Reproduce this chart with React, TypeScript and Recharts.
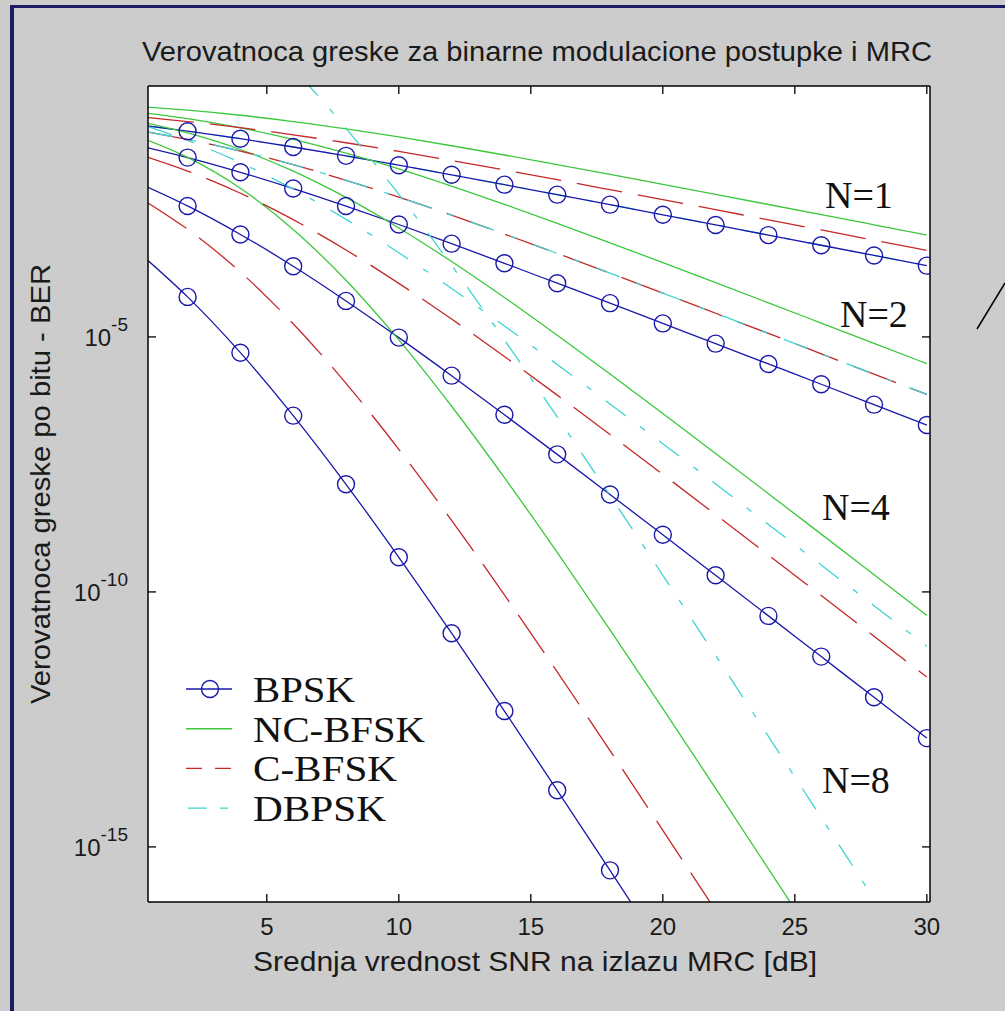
import React from "react";
import { CartesianGrid, Legend, Line, LineChart, XAxis, YAxis } from "recharts";

// SNR grid [dB] the curves were read at
const SNR = [0.5, 2, 4, 6, 8, 10, 12, 14, 16, 18, 20, 22, 24, 26, 28, 30];

// BPSK (blue, circles)
const bpskN1 = [0.136, 0.108, 0.0771, 0.053, 0.0355, 0.0233, 0.0151, 0.00967, 0.00616, 0.00392, 0.00248, 0.00157, 0.000992, 0.000627, 0.000396, 0.00025];
const bpskN2 = [0.0508, 0.0328, 0.0169, 0.00813, 0.00368, 0.0016, 0.000674, 0.000278, 0.000113, 4.59e-5, 1.84e-5, 7.39e-6, 2.95e-6, 1.18e-6, 4.7e-7, 1.87e-7];
const bpskN4 = [8.59e-3, 3.7e-3, 1.02e-3, 2.43e-4, 5.08e-5, 9.7e-6, 1.74e-6, 2.98e-7, 4.98e-8, 8.15e-9, 1.32e-9, 2.12e-10, 3.39e-11, 5.39e-12, 8.58e-13, 1.36e-13];
const bpskN8 = [3.14e-4, 6.09e-5, 4.91e-6, 2.86e-7, 1.29e-8, 4.78e-10, 1.55e-11, 4.61e-13, 1.29e-14, 3.47e-16, 9.11e-18];

// NC-BFSK (green, solid)
const ncN1 = [0.32, 0.279, 0.222, 0.167, 0.12, 0.0833, 0.056, 0.0369, 0.0239, 0.0154, 0.0098, 0.00623, 0.00395, 0.0025, 0.00158, 0.000998];
const ncN2 = [0.242, 0.19, 0.126, 0.0745, 0.04, 0.0197, 0.00906, 0.00398, 0.00169, 7.0e-4, 2.87e-4, 1.16e-4, 4.67e-5, 1.87e-5, 7.48e-6, 2.99e-6];
const ncN4 = [0.154, 0.1, 0.0473, 0.0178, 5.43e-3, 1.37e-3, 3.01e-4, 5.92e-5, 1.08e-5, 1.88e-6, 3.16e-7, 5.2e-8, 8.44e-9, 1.36e-9, 2.17e-10, 3.46e-11];
const ncN8 = [0.0715, 0.0331, 8.2e-3, 1.28e-3, 1.29e-4, 8.75e-6, 4.37e-7, 1.74e-8, 5.93e-10, 1.81e-11, 5.17e-13, 1.41e-14, 3.72e-16, 9.65e-18];

// C-BFSK (red, dashed)
const cN1 = [0.2, 0.167, 0.127, 0.0919, 0.0642, 0.0435, 0.0288, 0.0188, 0.0121, 0.00772, 0.00491, 0.00312, 0.00197, 0.00125, 0.000789, 0.000498];
const cN2 = [0.104, 0.0746, 0.0441, 0.0238, 0.0118, 0.00551, 0.00244, 0.00104, 4.34e-4, 1.78e-4, 7.22e-5, 2.91e-5, 1.17e-5, 4.67e-6, 1.86e-6, 7.44e-7];
const cN4 = [0.0333, 0.0179, 6.57e-3, 1.99e-3, 5.07e-4, 1.12e-4, 2.24e-5, 4.13e-6, 7.23e-7, 1.22e-7, 2.02e-8, 3.28e-9, 5.29e-10, 8.47e-11, 1.35e-11, 2.15e-12];
const cN8 = [4.24e-3, 1.29e-3, 1.87e-4, 1.81e-5, 1.23e-6, 6.24e-8, 2.53e-9, 8.74e-11, 2.7e-12, 7.76e-14, 2.12e-15, 5.64e-17, 1.47e-18];

// DBPSK (cyan, dash-dot)
const dbN1 = [0.136, 0.108, 0.0771, 0.053, 0.0355, 0.0233, 0.0151, 0.00967, 0.00616, 0.00392, 0.00248, 0.00157, 0.000992, 0.000627, 0.000396, 0.00025];
const dbN2 = [0.104, 0.0746, 0.0441, 0.0238, 0.0118, 0.00551, 0.00244, 0.00104, 4.34e-4, 1.78e-4, 7.22e-5, 2.91e-5, 1.17e-5, 4.67e-6, 1.86e-6, 7.44e-7];
const dbN4 = [0.133, 0.0711, 0.0261, 7.91e-3, 2.02e-3, 4.48e-4, 8.91e-5, 1.64e-5, 2.88e-6, 4.86e-7, 8.04e-8, 1.31e-8, 2.1e-9, 3.37e-10, 5.38e-11, 8.57e-12];
const dbN8 = [424, 129, 18.7, 1.81, 0.123, 6.24e-3, 2.53e-4, 8.73e-6, 2.7e-7, 7.76e-9, 2.12e-10, 5.64e-12, 1.47e-13, 3.76e-15, 9.57e-17];

const X_TICKS = [5, 10, 15, 20, 25, 30];
const Y_TICKS = [1e-5, 1e-10, 1e-15];
const LEGEND_NAMES = ["BPSK", "NC-BFSK", "C-BFSK", "DBPSK"];
const LEGEND_WIDTHS = [102, 172, 144, 133];
const N_LABELS = ["N=1", "N=2", "N=4", "N=8"];

const X_DOMAIN = [0.5, 30.12];
const Y_DOMAIN = [8.318e-17, 0.8318];

const BLUE = "#1818aa";
const GREEN = "#3cc83c";
const RED = "#c42828";
const CYAN = "#40d2d2";
const SANS = "'Liberation Sans', Arial, sans-serif";
const SERIF = "'Liberation Serif', 'Times New Roman', serif";
const RED_DASH = "46 16";
const CYAN_DASH = "25 18 6 18";

const toPoints = (vals: number[]) => vals.map((v, i) => ({ x: SNR[i], y: v }));

// circles only on the even-dB points, like the original plot
const Marker = (props: any) => {
  const { cx, cy, payload, index } = props;
  if (cx == null || cy == null || payload.x % 2 !== 0 || cy > 906) return <g key={`m-${index}`} />;
  return <circle key={`m-${index}`} cx={cx} cy={cy} r={8.5} fill="none" stroke={BLUE} strokeWidth={1.4} />;
};

const XTick = ({ x, y, payload }: any) => (
  <text x={x} y={y} textAnchor="middle" fontSize={24} fontFamily={SANS} fill="#1a1a1a">
    {payload.value}
  </text>
);

const YTick = ({ x, y, payload }: any) => {
  const exp = Math.round(Math.log10(payload.value));
  return (
    <text x={x} y={y + 9} textAnchor="end" fontSize={24} fontFamily={SANS} fill="#1a1a1a">
      <tspan>10</tspan>
      <tspan dy={-15} fontSize={19}>{String(exp)}</tspan>
    </text>
  );
};

const NoTick = () => <g />;

const LegendBox = () => (
  <svg width={300} height={175}>
    {LEGEND_NAMES.map((name, i) => {
      const cy = 29 + 39.7 * i;
      return (
        <g key={name}>
          {i === 0 && (
            <>
              <line x1={11} x2={57} y1={cy} y2={cy} stroke={BLUE} strokeWidth={1.4} />
              <circle cx={35} cy={cy} r={8.5} fill="none" stroke={BLUE} strokeWidth={1.4} />
            </>
          )}
          {i === 1 && <line x1={11} x2={57} y1={cy} y2={cy} stroke={GREEN} strokeWidth={1.4} />}
          {i === 2 && <line x1={11} x2={57} y1={cy} y2={cy} stroke={RED} strokeWidth={1.4} strokeDasharray="16 13" />}
          {i === 3 && <line x1={13} x2={55} y1={cy} y2={cy} stroke={CYAN} strokeWidth={1.4} strokeDasharray="19 13 8 20" />}
          <text
            x={78}
            y={cy + 13}
            fontSize={36}
            fontFamily={SERIF}
            fill="#111"
            textLength={LEGEND_WIDTHS[i]}
            lengthAdjust="spacingAndGlyphs"
          >
            {name}
          </text>
        </g>
      );
    })}
  </svg>
);

export default function App() {
  const lineBase = { type: "monotone" as const, dataKey: "y", isAnimationActive: false, activeDot: false, strokeWidth: 1.3 };

  return (
    <div style={{ position: "absolute", left: 0, top: 0, width: 1005, height: 1011, background: "#cccccc" }}>
      <LineChart width={1005} height={1011} margin={{ top: 85, right: 74, bottom: 49, left: 60 }}>
        <CartesianGrid horizontal={false} vertical={false} fill="#ffffff" />
        <XAxis
          dataKey="x"
          type="number"
          domain={X_DOMAIN}
          allowDataOverflow
          ticks={X_TICKS}
          height={60}
          tickSize={-8}
          tickMargin={41}
          tick={<XTick />}
          axisLine={{ stroke: "#000", strokeWidth: 1.5 }}
          tickLine={{ stroke: "#000", strokeWidth: 1.3 }}
        />
        <XAxis
          xAxisId="top"
          orientation="top"
          dataKey="x"
          type="number"
          domain={X_DOMAIN}
          allowDataOverflow
          ticks={X_TICKS}
          height={1}
          tickSize={-8}
          tick={NoTick}
          axisLine={{ stroke: "#000", strokeWidth: 1.5 }}
          tickLine={{ stroke: "#000", strokeWidth: 1.3 }}
        />
        <YAxis
          type="number"
          scale="log"
          domain={Y_DOMAIN}
          allowDataOverflow
          ticks={Y_TICKS}
          width={88}
          tickSize={-8}
          tickMargin={28}
          tick={<YTick />}
          axisLine={{ stroke: "#000", strokeWidth: 1.5 }}
          tickLine={{ stroke: "#000", strokeWidth: 1.3 }}
        />
        <YAxis
          yAxisId="right"
          orientation="right"
          type="number"
          scale="log"
          domain={Y_DOMAIN}
          allowDataOverflow
          ticks={Y_TICKS}
          width={1}
          tickSize={-8}
          tick={NoTick}
          axisLine={{ stroke: "#000", strokeWidth: 1.5 }}
          tickLine={{ stroke: "#000", strokeWidth: 1.3 }}
        />

        {/* DBPSK N=1 runs along BPSK N=1, so it sits underneath */}
        <Line {...lineBase} data={toPoints(dbN1)} stroke={CYAN} strokeDasharray={CYAN_DASH} dot={false} name="DBPSK N=1" />

        <Line {...lineBase} data={toPoints(bpskN1)} stroke={BLUE} dot={Marker} name="BPSK N=1" />
        <Line {...lineBase} data={toPoints(bpskN2)} stroke={BLUE} dot={Marker} name="BPSK N=2" />
        <Line {...lineBase} data={toPoints(bpskN4)} stroke={BLUE} dot={Marker} name="BPSK N=4" />
        <Line {...lineBase} data={toPoints(bpskN8)} stroke={BLUE} dot={Marker} name="BPSK N=8" />

        <Line {...lineBase} data={toPoints(ncN1)} stroke={GREEN} dot={false} name="NC-BFSK N=1" />
        <Line {...lineBase} data={toPoints(ncN2)} stroke={GREEN} dot={false} name="NC-BFSK N=2" />
        <Line {...lineBase} data={toPoints(ncN4)} stroke={GREEN} dot={false} name="NC-BFSK N=4" />
        <Line {...lineBase} data={toPoints(ncN8)} stroke={GREEN} dot={false} name="NC-BFSK N=8" />

        <Line {...lineBase} data={toPoints(cN1)} stroke={RED} strokeDasharray={RED_DASH} dot={false} name="C-BFSK N=1" />
        <Line {...lineBase} data={toPoints(cN2)} stroke={RED} strokeDasharray={RED_DASH} dot={false} name="C-BFSK N=2" />
        <Line {...lineBase} data={toPoints(cN4)} stroke={RED} strokeDasharray={RED_DASH} dot={false} name="C-BFSK N=4" />
        <Line {...lineBase} data={toPoints(cN8)} stroke={RED} strokeDasharray={RED_DASH} dot={false} name="C-BFSK N=8" />

        <Line {...lineBase} data={toPoints(dbN2)} stroke={CYAN} strokeDasharray={CYAN_DASH} dot={false} name="DBPSK N=2" />
        <Line {...lineBase} data={toPoints(dbN4)} stroke={CYAN} strokeDasharray={CYAN_DASH} dot={false} name="DBPSK N=4" />
        <Line {...lineBase} data={toPoints(dbN8)} stroke={CYAN} strokeDasharray={CYAN_DASH} dot={false} name="DBPSK N=8" />

        <Legend
          layout="vertical"
          align="center"
          verticalAlign="middle"
          content={() => <LegendBox />}
          wrapperStyle={{ left: 175, top: 660, width: 300, height: 175 }}
        />
      </LineChart>

      <svg
        width={1005}
        height={1011}
        style={{ position: "absolute", left: 0, top: 0, pointerEvents: "none" }}
      >
        <rect x={10} y={5} width={995} height={3} fill="#1c1c64" />
        <rect x={10} y={5} width={4} height={1006} fill="#1c1c64" />
        <line x1={977} y1={329} x2={1005} y2={283} stroke="#000" strokeWidth={1.5} />

        <text x={537} y={61} textAnchor="middle" fontSize={28} fontFamily={SANS} fill="#1a1a1a" textLength={790} lengthAdjust="spacingAndGlyphs">
          Verovatnoca greske za binarne modulacione postupke i MRC
        </text>
        <text x={535} y={971} textAnchor="middle" fontSize={28} fontFamily={SANS} fill="#1a1a1a" textLength={564} lengthAdjust="spacingAndGlyphs">
          Srednja vrednost SNR na izlazu MRC [dB]
        </text>
        <text
          transform="translate(50,484) rotate(-90)"
          textAnchor="middle"
          fontSize={28}
          fontFamily={SANS}
          fill="#1a1a1a"
          textLength={440}
          lengthAdjust="spacingAndGlyphs"
        >
          Verovatnoca greske po bitu - BER
        </text>

        <text x={825} y={208} fontSize={38} fontFamily={SERIF} fill="#111">{N_LABELS[0]}</text>
        <text x={840} y={327} fontSize={38} fontFamily={SERIF} fill="#111">{N_LABELS[1]}</text>
        <text x={822} y={520} fontSize={38} fontFamily={SERIF} fill="#111">{N_LABELS[2]}</text>
        <text x={822} y={793} fontSize={38} fontFamily={SERIF} fill="#111">{N_LABELS[3]}</text>
      </svg>
    </div>
  );
}
